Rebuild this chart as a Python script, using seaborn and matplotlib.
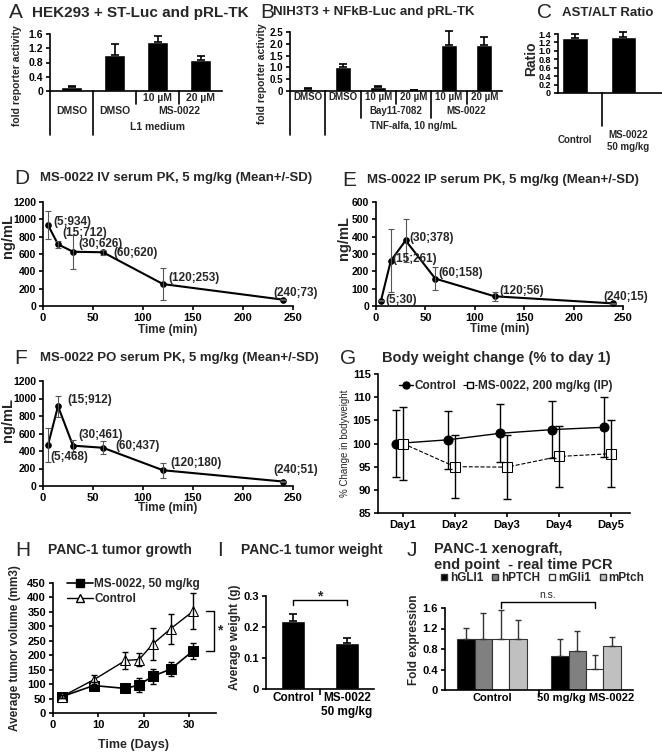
"""
MS-0022 multi-panel figure (reporter assays, PK, body weight, xenograft)
"""
import numpy as np
import pandas as pd
import matplotlib
matplotlib.use('Agg')
import matplotlib.pyplot as plt
import matplotlib.transforms as mtrans
from matplotlib.lines import Line2D
import seaborn as sns

# ---------------- data ----------------
# A: HEK293 + ST-Luc
a_groups = ['DMSO', 'L1 DMSO', 'L1 MS 10', 'L1 MS 20']
a_values = [0.12, 1.00, 1.37, 0.86]
a_sd = [0.02, 0.32, 0.17, 0.12]

# B: NIH3T3 + NFkB-Luc
b_groups = ['DMSO', 'TNF DMSO', 'TNF Bay 10', 'TNF Bay 20', 'TNF MS 10', 'TNF MS 20']
b_values = [0.08, 1.02, 0.15, 0.04, 1.95, 1.93]
b_sd = [0.03, 0.12, 0.07, 0.02, 0.60, 0.35]

# C: AST/ALT
c_groups = ['Control', 'MS-0022\n50 mg/kg']
c_values = [1.30, 1.33]
c_sd = [0.10, 0.12]

# D/E/F: serum PK
pk_time = [5, 15, 30, 60, 120, 240]
iv_conc = [934, 712, 626, 620, 253, 73]
iv_sd = [158, 40, 195, 28, 180, 8]
ip_conc = [30, 261, 378, 158, 56, 15]
ip_sd = [4, 183, 123, 65, 25, 4]
po_conc = [468, 912, 461, 437, 180, 51]
po_sd = [198, 118, 70, 72, 87, 6]

# G: body weight
bw_days = ['Day1', 'Day2', 'Day3', 'Day4', 'Day5']
bw_ctrl = [100.0, 100.8, 102.2, 103.0, 103.5]
bw_ctrl_sd = [7.2, 6.3, 6.3, 6.2, 6.5]
bw_ms = [100.0, 95.0, 94.9, 97.2, 97.8]
bw_ms_sd = [7.9, 6.8, 6.9, 6.5, 7.2]

# H: tumor growth
tg_days = [2, 9, 16, 19, 22, 26, 31]
tg_ms = [57, 95, 85, 97, 127, 152, 216]
tg_ms_sd = [6, 12, 14, 23, 27, 25, 28]
tg_ctrl = [57, 115, 182, 185, 238, 292, 353]
tg_ctrl_sd = [6, 15, 28, 22, 55, 52, 62]

# I: tumor weight
tw_groups = ['Control', 'MS-0022\n50 mg/kg']
tw_values = [0.22, 0.15]
tw_sd = [0.022, 0.013]

# J: real time PCR
pcr_genes = ['hGLI1', 'hPTCH', 'mGli1', 'mPtch']
pcr_groups = ['Control', '50 mg/kg MS-0022']
pcr_ctrl = [1.0, 1.0, 1.0, 1.0]
pcr_ctrl_sd = [0.21, 0.50, 0.57, 0.36]
pcr_ms = [0.66, 0.77, 0.41, 0.85]
pcr_ms_sd = [0.34, 0.38, 0.27, 0.19]
pcr_colors = ['#000000', '#808080', '#ffffff', '#c0c0c0']

# ---------------- style ----------------
sns.set_style('ticks')
plt.rcParams['font.family'] = ['Liberation Sans', 'DejaVu Sans']
plt.rcParams['font.weight'] = 'bold'
plt.rcParams['axes.labelweight'] = 'bold'
plt.rcParams['axes.linewidth'] = 1.2
plt.rcParams['xtick.major.width'] = 1.2
plt.rcParams['ytick.major.width'] = 1.2
plt.rcParams['xtick.major.size'] = 3
plt.rcParams['ytick.major.size'] = 3
plt.rcParams['xtick.major.pad'] = 2
plt.rcParams['ytick.major.pad'] = 2
plt.rcParams['xtick.color'] = 'black'
plt.rcParams['ytick.color'] = 'black'
plt.rcParams['axes.edgecolor'] = 'black'

W, H = 662, 754
fig = plt.figure(figsize=(W / 100, H / 100), dpi=100)


def axes_px(left, top, right, bottom):
    """pixel box (top-left origin) -> axes"""
    ax = fig.add_axes([left / W, 1 - bottom / H, (right - left) / W, (bottom - top) / H])
    sns.despine(ax=ax)
    return ax


def ftext(x, y, s, **kw):
    kw.setdefault('va', 'center')
    fig.text(x / W, 1 - y / H, s, **kw)


def panel_title(lx, tx, y, letter, title, size=10):
    ftext(lx, y, letter, fontsize=15, fontweight='normal')
    ftext(tx, y, title, fontsize=size)


def up_err(ax, x, y, sd, cap=3, lw=1.2, color='black'):
    ax.errorbar(x, y, yerr=[np.zeros(len(sd)), sd], fmt='none', ecolor=color,
                elinewidth=lw, capsize=cap, capthick=lw, clip_on=False)


def table_lines(ax, xs, y0, y1):
    tr = mtrans.blended_transform_factory(ax.transData, fig.transFigure)
    for x in xs:
        ax.add_line(Line2D([x, x], [1 - y0 / H, 1 - y1 / H], transform=tr,
                           color='black', lw=1.2, clip_on=False))


def table_text(ax, x, y, s, size=7.5):
    tr = mtrans.blended_transform_factory(ax.transData, fig.transFigure)
    ax.text(x, 1 - y / H, s, transform=tr, ha='center', va='center', fontsize=size)


def yticks(ax, vals, labels, size=7.5):
    ax.set_yticks(vals)
    ax.set_yticklabels(labels, fontsize=size)


# ---------------- A ----------------
axA = axes_px(50, 34, 222, 91)
sns.barplot(x=a_groups, y=a_values, color='black', width=0.5, ax=axA)
up_err(axA, range(4), a_values, a_sd)
axA.set_ylim(0, 1.6)
axA.set_xlim(-0.5, 3.5)
yticks(axA, [0, 0.4, 0.8, 1.2, 1.6], ['0', '0.4', '0.8', '1.2', '1.6'])
axA.set_xticks([])
table_lines(axA, [-0.5, 0.5], 91, 135)
table_lines(axA, [1.5, 2.5], 91, 104)
table_text(axA, 2, 98, '10 µM')
table_text(axA, 3, 98, '20 µM')
table_text(axA, 0, 111, 'DMSO')
table_text(axA, 1, 111, 'DMSO')
table_text(axA, 2.5, 111, 'MS-0022')
table_text(axA, 2, 127, 'L1 medium')
ftext(17, 76, 'fold reporter activity', rotation=90, ha='center', fontsize=7.5)
panel_title(9, 32, 13, 'A', 'HEK293 + ST-Luc and pRL-TK', size=11)

# ---------------- B ----------------
axB = axes_px(290, 32, 502, 91)
sns.barplot(x=b_groups, y=b_values, color='black', width=0.45, ax=axB)
up_err(axB, range(6), b_values, b_sd)
axB.set_ylim(0, 2.5)
axB.set_xlim(-0.5, 5.5)
yticks(axB, [0, 0.5, 1.0, 1.5, 2.0, 2.5], ['0', '0.5', '1.0', '1.5', '2.0', '2.5'], size=7)
axB.set_xticks([])
table_lines(axB, [-0.5, 0.5], 91, 135)
table_lines(axB, [1.5, 3.5], 91, 118)
table_lines(axB, [2.5, 4.5], 91, 104)
for i, s in enumerate(['DMSO', 'DMSO', '10 µM', '20 µM', '10 µM', '20 µM']):
    table_text(axB, i, 97, s, size=7)
table_text(axB, 2.5, 111, 'Bay11-7082', size=7)
table_text(axB, 4.5, 111, 'MS-0022', size=7)
table_text(axB, 3, 126, 'TNF-alfa, 10 ng/mL', size=7)
ftext(262, 74, 'fold reporter activity', rotation=90, ha='center', fontsize=7.5)
panel_title(260, 273, 12, 'B', 'NIH3T3 + NFkB-Luc and pRL-TK', size=9.5)

# ---------------- C ----------------
axC = axes_px(558, 34, 662, 93)
sns.barplot(x=c_groups, y=c_values, color='black', width=0.52, ax=axC)
up_err(axC, range(2), c_values, c_sd)
axC.set_ylim(0, 1.4)
axC.set_xlim(-0.35, 1.8)
yticks(axC, [0, 0.2, 0.4, 0.6, 0.8, 1.0, 1.2, 1.4],
       ['0', '0.2', '0.4', '0.6', '0.8', '1.0', '1.2', '1.4'], size=6.5)
axC.set_xticks([])
table_lines(axC, [0.56], 93, 126)
table_text(axC, 0, 140, 'Control', size=7)
table_text(axC, 1.1, 141, 'MS-0022\n50 mg/kg', size=7)
ftext(531, 59, 'Ratio', rotation=90, ha='center', fontsize=10)
panel_title(537, 562, 13, 'C', 'AST/ALT Ratio', size=9.5)


# ---------------- D / E / F ----------------
def pk_panel(box, conc, sd, ymax, ystep, offsets):
    ax = axes_px(*box)
    sns.lineplot(x=pk_time, y=conc, color='black', marker='o', markersize=4,
                 markeredgecolor='black', linewidth=1.5, ax=ax, clip_on=False)
    ax.errorbar(pk_time, conc, yerr=sd, fmt='none', ecolor='#555555', elinewidth=0.8,
                capsize=2, capthick=0.8, clip_on=False)
    for t, c, (dx, dy) in zip(pk_time, conc, offsets):
        ax.annotate(f'({t};{c})', (t, c), xytext=(dx, dy), textcoords='offset pixels',
                    fontsize=8.5, ha='left', va='center')
    ax.set_xlim(0, 250)
    ax.set_ylim(0, ymax)
    ax.set_xticks([0, 50, 100, 150, 200, 250])
    ax.set_xticklabels(['0', '50', '100', '150', '200', '250'], fontsize=8)
    yt = list(range(0, ymax + 1, ystep))
    yticks(ax, yt, [str(v) for v in yt], size=7.5)
    ax.set_xlabel('')
    ax.set_ylabel('')
    return ax


axD = pk_panel((43, 202, 293, 306), iv_conc, iv_sd, 1200, 200,
               [(5, 3), (4, 11), (5, 8), (10, -1), (5, 6), (-10, 7)])
ftext(168, 330, 'Time (min)', ha='center', fontsize=8.5)
ftext(8, 236, 'ng/mL', rotation=90, ha='center', fontsize=10.5)
panel_title(14, 40, 178, 'D', 'MS-0022 IV serum PK, 5 mg/kg (Mean+/-SD)', size=9.5)

axE = pk_panel((376, 202, 623, 306), ip_conc, ip_sd, 600, 100,
               [(4, 1), (2, 2), (4, 2), (3, 6), (5, 5), (-10, 6)])
ftext(500, 329, 'Time (min)', ha='center', fontsize=8.5)
ftext(344, 238, 'ng/mL', rotation=90, ha='center', fontsize=10.5)
panel_title(342, 367, 180, 'E', 'MS-0022 IP serum PK, 5 mg/kg (Mean+/-SD)', size=9.5)

axF = pk_panel((43, 381, 293, 486), po_conc, po_sd, 1200, 200,
               [(2, -12), (9, 6), (5, 11), (12, 2), (7, 7), (-10, 12)])
ftext(168, 508, 'Time (min)', ha='center', fontsize=8.5)
ftext(8, 420, 'ng/mL', rotation=90, ha='center', fontsize=10.5)
panel_title(14, 40, 358, 'F', 'MS-0022 PO serum PK, 5 mg/kg (Mean+/-SD)', size=9.5)

# ---------------- G ----------------
axG = axes_px(378, 374, 630, 513)
xg = np.arange(len(bw_days))
sns.lineplot(x=xg - 0.13, y=bw_ctrl, color='black', marker='o', markersize=6.5,
             markeredgecolor='black', linewidth=1.0, ax=axG)
sns.lineplot(x=xg, y=bw_ms, color='black', marker='s', markersize=6.5,
             markerfacecolor='white', markeredgecolor='black', linewidth=0.8,
             linestyle='--', ax=axG)
axG.errorbar(xg - 0.13, bw_ctrl, yerr=bw_ctrl_sd, fmt='none', ecolor='black',
             elinewidth=1.0, capsize=3, capthick=1.0)
axG.errorbar(xg, bw_ms, yerr=bw_ms_sd, fmt='none', ecolor='black',
             elinewidth=1.0, capsize=3, capthick=1.0)
axG.set_xlim(-0.48, 4.37)
axG.set_ylim(85, 115)
axG.set_xticks(xg)
axG.set_xticklabels(bw_days, fontsize=8)
yticks(axG, [85, 90, 95, 100, 105, 110, 115], ['85', '90', '95', '100', '105', '110', '115'], size=8)
g_handles = [Line2D([], [], color='black', marker='o', markersize=5, lw=1.0),
             Line2D([], [], color='black', marker='s', markersize=5, lw=0.8, ls='--',
                    markerfacecolor='white')]
axG.legend(g_handles, ['Control', 'MS-0022, 200 mg/kg (IP)'], ncol=2, loc='upper left',
           bbox_to_anchor=(0.04, 1.03), frameon=False, handlelength=1.2,
           handletextpad=0.1, columnspacing=0.6, prop={'weight': 'bold', 'size': 8.5})
ftext(345, 443, '% Change in bodyweight', rotation=90, ha='center', fontsize=7, fontweight='normal')
panel_title(340, 382, 358, 'G', 'Body weight change (% to day 1)', size=10.5)

# ---------------- H ----------------
axH = axes_px(53, 583, 216, 713)
sns.lineplot(x=tg_days, y=tg_ms, color='black', marker='s', markersize=7,
             markeredgecolor='black', linewidth=1.2, ax=axH)
sns.lineplot(x=tg_days, y=tg_ctrl, color='black', marker='^', markersize=7,
             markerfacecolor='white', markeredgecolor='black', linewidth=1.0, ax=axH)
axH.errorbar(tg_days, tg_ms, yerr=tg_ms_sd, fmt='none', ecolor='black', elinewidth=1.0,
             capsize=2.5, capthick=1.0)
axH.errorbar(tg_days, tg_ctrl, yerr=tg_ctrl_sd, fmt='none', ecolor='black', elinewidth=1.0,
             capsize=2.5, capthick=1.0)
axH.set_xlim(0, 36)
axH.set_ylim(0, 450)
axH.set_xticks([0, 10, 20, 30])
axH.set_xticklabels(['0', '10', '20', '30'], fontsize=8)
yt = list(range(0, 451, 50))
yticks(axH, yt, [str(v) for v in yt], size=8)
h_handles = [Line2D([], [], color='black', marker='s', markersize=6, lw=1.2),
             Line2D([], [], color='black', marker='^', markersize=6, lw=1.0,
                    markerfacecolor='white')]
axH.legend(h_handles, ['MS-0022, 50 mg/kg', 'Control'], loc='upper left',
           bbox_to_anchor=(0.02, 1.12), frameon=False, handlelength=2.2,
           handletextpad=0.1, labelspacing=0.25, prop={'weight': 'bold', 'size': 8.5})
axH.plot([33.8, 35.6, 35.6, 33.8], [tg_ctrl[-1], tg_ctrl[-1], tg_ms[-1], tg_ms[-1]],
         color='black', lw=1.0, clip_on=False)
axH.text(36.8, (tg_ctrl[-1] + tg_ms[-1]) / 2, '*', fontsize=10, va='center', ha='center')
axH.set_xlabel('')
ftext(134, 745, 'Time (Days)', ha='center', fontsize=9)
ftext(15, 648, 'Average tumor volume (mm3)', rotation=90, ha='center', fontsize=8.5)
panel_title(15, 48, 550, 'H', 'PANC-1 tumor growth', size=10)

# ---------------- I ----------------
axI = axes_px(266, 596, 374, 689)
sns.barplot(x=tw_groups, y=tw_values, color='black', width=0.45, ax=axI)
up_err(axI, range(2), tw_values, tw_sd)
axI.set_xlim(-0.5, 1.5)
axI.set_ylim(0, 0.3)
axI.set_xticks([0.5], minor=True)
axI.tick_params(axis='x', which='major', length=0, labelsize=8.5)
axI.tick_params(axis='x', which='minor', length=4, width=1.2)
yticks(axI, [0, 0.1, 0.2, 0.3], ['0', '0.1', '0.2', '0.3'], size=8)
axI.plot([0, 0, 1, 1], [0.272, 0.287, 0.287, 0.272], color='black', lw=1.0, clip_on=False)
axI.text(0.5, 0.298, '*', ha='center', va='center', fontsize=10)
axI.set_ylabel('')
ftext(235, 637, 'Average weight (g)', rotation=90, ha='center', fontsize=8.5)
ftext(217, 550, 'I', fontsize=15, fontweight='normal')
ftext(241, 550, 'PANC-1 tumor weight', fontsize=10)

# ---------------- J ----------------
axJ = axes_px(445, 608, 633, 690)
pcr_df = pd.DataFrame({
    'group': [pcr_groups[0]] * 4 + [pcr_groups[1]] * 4,
    'gene': pcr_genes * 2,
    'value': pcr_ctrl + pcr_ms,
})
pcr_err = pcr_ctrl_sd + pcr_ms_sd
sns.barplot(data=pcr_df, x='group', y='value', hue='gene', hue_order=pcr_genes,
            palette=pcr_colors, edgecolor='#333333', linewidth=0.8, width=0.74,
            legend=False, ax=axJ)
bars = sorted(axJ.patches, key=lambda p: p.get_x())
for p, e in zip(bars, pcr_err):
    xc = p.get_x() + p.get_width() / 2
    axJ.errorbar([xc], [p.get_height()], yerr=[[0], [e]], fmt='none', ecolor='#333333',
                 elinewidth=1.0, capsize=2.5, capthick=1.0)
axJ.set_xlim(-0.5, 1.5)
axJ.set_ylim(0, 1.6)
axJ.set_xticks([0.5], minor=True)
axJ.tick_params(axis='x', which='major', length=0, labelsize=8)
axJ.tick_params(axis='x', which='minor', length=4, width=1.2)
yticks(axJ, [0, 0.4, 0.8, 1.2, 1.6], ['0', '0.4', '0.8', '1.2', '1.6'], size=8)
axJ.set_xlabel('')
axJ.set_ylabel('')
x_ctrl = bars[2].get_x() + bars[2].get_width() / 2
x_ms = bars[6].get_x() + bars[6].get_width() / 2
axJ.plot([x_ctrl, x_ctrl, x_ms, x_ms], [1.6, 1.72, 1.72, 1.6], color='black', lw=1.0,
         clip_on=False)
axJ.text((x_ctrl + x_ms) / 2, 1.86, 'n.s.', ha='center', va='center', fontsize=7.5,
         fontweight='normal')
j_handles = [Line2D([], [], ls='', marker='s', markersize=5, markerfacecolor=c,
                    markeredgecolor='#333333') for c in pcr_colors]
fig.legend(j_handles, pcr_genes, ncol=4, loc='center left', bbox_to_anchor=(430 / W, 1 - 578 / H),
           frameon=False, handlelength=0.6, handletextpad=0.2, columnspacing=0.7,
           prop={'weight': 'bold', 'size': 8.5})
ftext(414, 640, 'Fold expression', rotation=90, ha='center', fontsize=8.5)
ftext(407, 550, 'J', fontsize=15, fontweight='normal')
ftext(434, 549, 'PANC-1 xenograft,', fontsize=10.5)
ftext(434, 565, 'end point  - real time PCR', fontsize=10.5)

fig.savefig('out.png', dpi=100)
